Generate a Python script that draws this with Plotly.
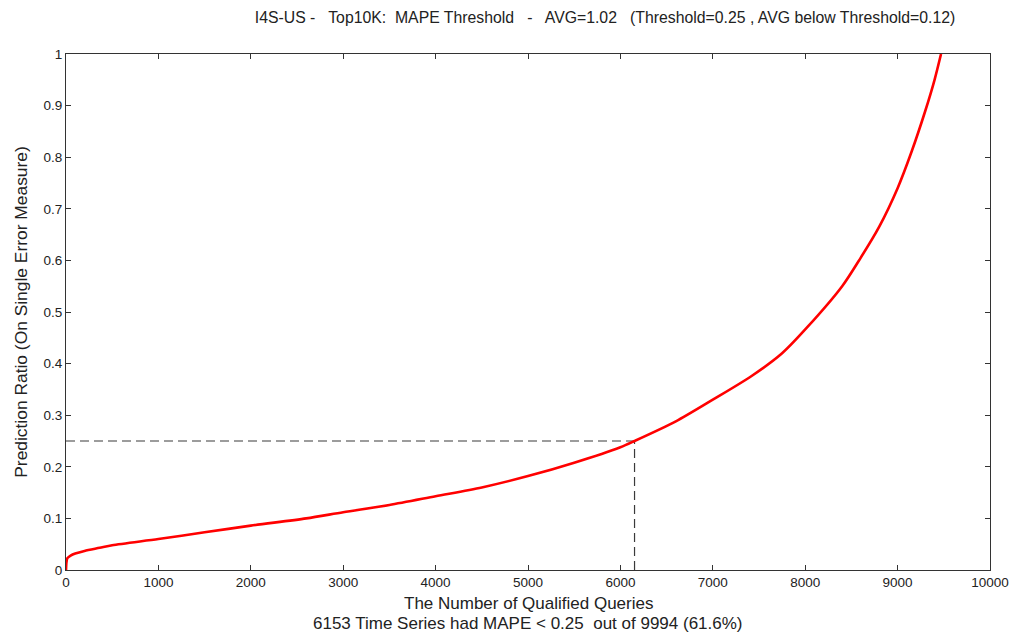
import plotly.graph_objects as go

# Sorted prediction ratio (MAPE) per qualified query
queries = [0, 5, 15, 50, 100, 200, 365, 500, 1000, 1500, 2000, 2600, 3000, 3500,
           4000, 4500, 5000, 5500, 6000, 6153, 6600, 7000, 7420, 7750, 8020, 8400,
           8600, 8800, 9000, 9150, 9300, 9400, 9470]
ratio = [0.0, 0.015, 0.023, 0.028, 0.032, 0.037, 0.043, 0.048, 0.060, 0.073, 0.086,
         0.100, 0.112, 0.126, 0.143, 0.160, 0.182, 0.208, 0.238, 0.250, 0.288, 0.330,
         0.376, 0.420, 0.470, 0.550, 0.605, 0.665, 0.740, 0.810, 0.890, 0.950, 1.0]

threshold = 0.25
n_below = 6153

x_ticks = [0, 1000, 2000, 3000, 4000, 5000, 6000, 7000, 8000, 9000, 10000]
y_ticks = [0, 0.1, 0.2, 0.3, 0.4, 0.5, 0.6, 0.7, 0.8, 0.9, 1]
y_tick_labels = ["0", "0.1", "0.2", "0.3", "0.4", "0.5", "0.6", "0.7", "0.8", "0.9", "1"]

title = "I4S-US -   Top10K:  MAPE Threshold   -   AVG=1.02   (Threshold=0.25 , AVG below Threshold=0.12)"
x_title = "The Number of Qualified Queries"
x_sub = "6153 Time Series had MAPE < 0.25  out of 9994 (61.6%)"
y_title = "Prediction Ratio (On Single Error Measure)"

font = "Liberation Sans, Arial, sans-serif"
txt = "#222222"

fig = go.Figure()
fig.add_trace(go.Scatter(x=[0, n_below], y=[threshold, threshold], mode="lines",
                         line=dict(color="#3a3a3a", width=1.2, dash="9px,5px"),
                         showlegend=False, hoverinfo="skip"))
fig.add_trace(go.Scatter(x=[n_below, n_below], y=[0, threshold], mode="lines",
                         line=dict(color="#3a3a3a", width=1.2, dash="9px,5px"),
                         showlegend=False, hoverinfo="skip"))
fig.add_trace(go.Scatter(x=queries, y=ratio, mode="lines",
                         line=dict(color="#ff0000", width=2.6, shape="spline", smoothing=0.8),
                         showlegend=False))

axis_common = dict(showgrid=False, zeroline=False, showline=True, linecolor="#333333",
                   linewidth=1, mirror="ticks", ticks="inside", ticklen=5,
                   tickcolor="#333333", tickfont=dict(family=font, size=13.5, color=txt))

fig.update_xaxes(range=[0, 10000], tickvals=x_ticks, ticktext=[str(v) for v in x_ticks],
                 **axis_common)
fig.update_yaxes(range=[0, 1], tickvals=y_ticks, ticktext=y_tick_labels,
                 title=dict(text=y_title, font=dict(family=font, size=17.4, color=txt), standoff=11),
                 **axis_common)

fig.update_layout(
    width=1021, height=638,
    margin=dict(l=66, r=24, t=54, b=68),
    plot_bgcolor="white", paper_bgcolor="white",
    title=dict(text=title, x=0.5926, xanchor="center", y=0.972, yanchor="middle",
               font=dict(family=font, size=15.8, color=txt)),
    annotations=[
        dict(text=x_title, xref="paper", yref="paper", x=0.5, y=-0.064, showarrow=False,
             xanchor="center", yanchor="middle", font=dict(family=font, size=17, color=txt)),
        dict(text=x_sub, xref="paper", yref="paper", x=0.5, y=-0.103, showarrow=False,
             xanchor="center", yanchor="middle", font=dict(family=font, size=17, color=txt)),
    ],
)

fig.write_html("out.html")
